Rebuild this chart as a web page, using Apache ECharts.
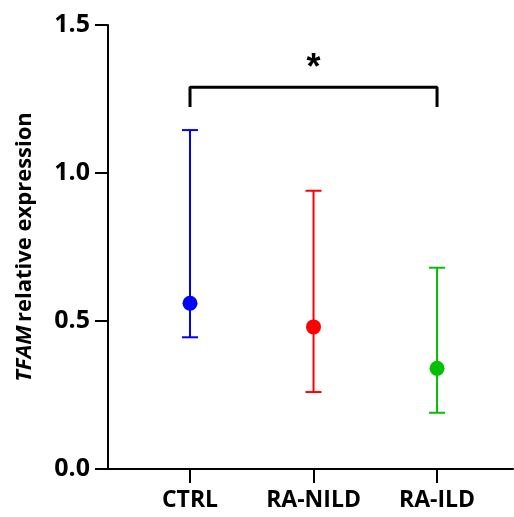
<!DOCTYPE html>
<html>
<head>
<meta charset="utf-8">
<script src="https://cdn.jsdelivr.net/npm/echarts@6/dist/echarts.min.js"></script>
<style>html,body{margin:0;padding:0;background:#fff}#c{width:514px;height:517px}</style>
</head>
<body>
<div id="c"></div>
<script>
var categories = ['CTRL', 'RA-NILD', 'RA-ILD'];
var means = [0.56, 0.48, 0.34];
var lowers = [0.445, 0.26, 0.19];
var uppers = [1.145, 0.94, 0.68];
var colors = ['#0000FF', '#FF0000', '#00C000'];
var yTicks = [0, 0.5, 1.0, 1.5];
var bracket = { from: 1, to: 3, top: 1.29, bottom: 1.223, label: '*', labelY: 1.35 };

var font = '"Open Sans", "Liberation Sans", sans-serif';
var chart = echarts.init(document.getElementById('c'), null, {renderer: 'canvas'});

var pointData = means.map(function (m, i) {
  return { value: [i + 1, m], itemStyle: { color: colors[i], opacity: 1 } };
});
var errData = means.map(function (m, i) {
  return [i + 1, lowers[i], uppers[i]];
});

chart.setOption({
  animation: false,
  grid: { left: 108, right: 1, top: 25, bottom: 48 },
  xAxis: {
    type: 'value', min: 0.336, max: 3.615,
    splitLine: { show: false },
    axisLine: { lineStyle: { color: '#000', width: 2 } },
    axisTick: { show: true, length: 14, lineStyle: { color: '#000', width: 2 }, customValues: [1, 2, 3] },
    axisLabel: {
      customValues: [1, 2, 3],
      formatter: function (v) { return categories[Math.round(v) - 1] || ''; },
      color: '#000', fontFamily: font, fontWeight: 'bold', fontSize: 23, margin: 20
    }
  },
  yAxis: {
    type: 'value', min: 0, max: 1.5, interval: 0.5,
    splitLine: { show: false },
    axisLine: { show: true, lineStyle: { color: '#000', width: 2 } },
    axisTick: { show: true, length: 13, lineStyle: { color: '#000', width: 2 } },
    axisLabel: {
      formatter: function (v) { return v.toFixed(1); },
      color: '#000', fontFamily: font, fontWeight: 'bold', fontSize: 25, margin: 18
    },
    name: '{i|TFAM} {n|relative expression}',
    nameLocation: 'middle', nameGap: 72, nameRotate: 90,
    nameTextStyle: {
      rich: {
        i: { fontFamily: font, fontWeight: 'bold', fontStyle: 'italic', fontSize: 22, color: '#000' },
        n: { fontFamily: font, fontWeight: 'bold', fontSize: 22, color: '#000' }
      }
    }
  },
  series: [
    {
      type: 'custom',
      data: errData,
      renderItem: function (params, api) {
        var x = api.value(0);
        var lo = api.coord([x, api.value(1)]);
        var hi = api.coord([x, api.value(2)]);
        var c = colors[params.dataIndex];
        var hw = 8;
        var st = { stroke: c, lineWidth: 2 };
        return {
          type: 'group',
          children: [
            { type: 'line', shape: { x1: lo[0], y1: lo[1], x2: hi[0], y2: hi[1] }, style: st },
            { type: 'line', shape: { x1: lo[0] - hw, y1: lo[1], x2: lo[0] + hw, y2: lo[1] }, style: st },
            { type: 'line', shape: { x1: hi[0] - hw, y1: hi[1], x2: hi[0] + hw, y2: hi[1] }, style: st }
          ]
        };
      },
      z: 2
    },
    {
      type: 'scatter',
      data: pointData,
      symbol: 'circle',
      symbolSize: 15,
      itemStyle: { opacity: 1 },
      z: 3
    },
    {
      type: 'line',
      data: [[bracket.from, bracket.bottom], [bracket.from, bracket.top], [bracket.to, bracket.top], [bracket.to, bracket.bottom]],
      symbol: 'none',
      lineStyle: { color: '#000', width: 3 },
      z: 2
    },
    {
      type: 'scatter',
      data: [[(bracket.from + bracket.to) / 2, bracket.labelY]],
      symbolSize: 0,
      itemStyle: { opacity: 1 },
      label: {
        show: true, position: 'inside', formatter: bracket.label,
        color: '#000', opacity: 1, fontFamily: '"Liberation Sans", sans-serif', fontWeight: 'bold', fontSize: 36
      }
    }
  ]
});
</script>
</body>
</html>
